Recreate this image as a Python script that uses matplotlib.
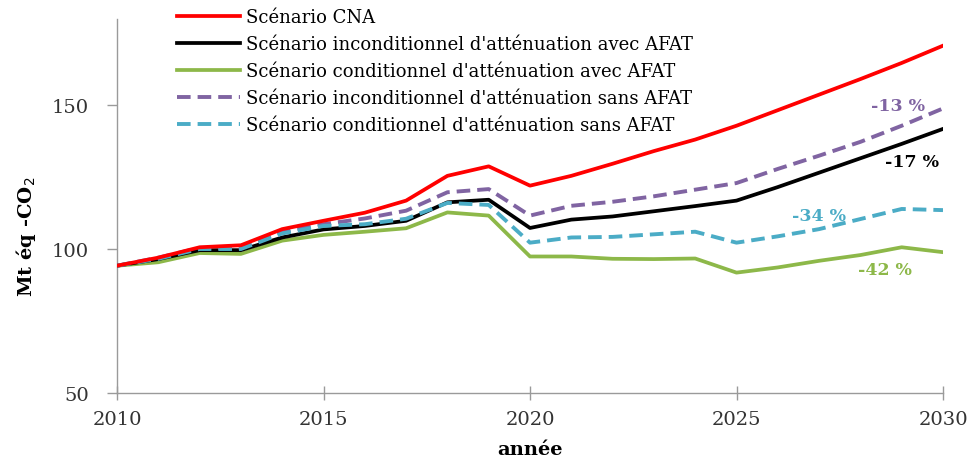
import matplotlib
matplotlib.use("Agg")
import matplotlib.pyplot as plt

years = list(range(2010, 2031))
cna = [94.2, 97.0, 100.6, 101.3, 106.9, 109.8, 112.6, 116.8, 125.4, 128.7, 122.0,
       125.4, 129.6, 134.0, 138.0, 142.8, 148.2, 153.6, 159.0, 164.6, 170.6]
incond_avec = [94.2, 96.5, 99.6, 99.6, 104.0, 106.8, 108.0, 109.8, 116.2, 117.1, 107.3,
               110.2, 111.3, 113.1, 114.9, 116.8, 121.5, 126.5, 131.5, 136.5, 141.7]
cond_avec = [94.2, 95.4, 98.6, 98.3, 102.9, 104.9, 106.0, 107.2, 112.7, 111.6, 97.4,
             97.4, 96.6, 96.5, 96.7, 91.8, 93.6, 95.9, 97.9, 100.6, 98.9]
incond_sans = [94.2, 97.0, 100.4, 100.4, 106.0, 108.6, 110.6, 113.3, 119.7, 120.8, 111.6,
               115.0, 116.4, 118.3, 120.6, 122.9, 127.8, 132.4, 137.2, 142.8, 148.8]
cond_sans = [94.2, 96.6, 100.0, 100.0, 105.4, 108.0, 108.6, 110.5, 116.0, 115.3, 102.2,
             104.0, 104.2, 105.1, 106.0, 102.2, 104.4, 106.9, 110.4, 113.9, 113.5]

labels = ["Scénario CNA",
          "Scénario inconditionnel d'atténuation avec AFAT",
          "Scénario conditionnel d'atténuation avec AFAT",
          "Scénario inconditionnel d'atténuation sans AFAT",
          "Scénario conditionnel d'atténuation sans AFAT"]
annots = ["-13 %", "-17 %", "-34 %", "-42 %"]

red = "#ff0000"
black = "#000000"
green = "#8db849"
purple = "#8064a2"
teal = "#4bacc6"

plt.rcParams["font.family"] = ["DejaVu Serif"]

W, H = 969, 460
fig = plt.figure(figsize=(W/100, H/100), dpi=100)
ax = fig.add_axes([117/W, 1-394/H, (943-117)/W, (394-19.6)/H])

ax.plot(years, cna, color=red, lw=2.7, label=labels[0], zorder=5)
ax.plot(years, incond_avec, color=black, lw=2.7, label=labels[1], zorder=3)
ax.plot(years, cond_avec, color=green, lw=2.7, label=labels[2], zorder=2)
ax.plot(years, incond_sans, color=purple, lw=2.8, ls=(0, (3.5, 1.8)), label=labels[3], zorder=4)
ax.plot(years, cond_sans, color=teal, lw=2.8, ls=(0, (3.5, 1.8)), label=labels[4], zorder=4)

ax.set_xlim(2010, 2030)
ax.set_ylim(50, 180)
ax.set_xticks([2010, 2015, 2020, 2025, 2030])
ax.set_yticks([50, 100, 150])
for s in ["top", "right"]:
    ax.spines[s].set_visible(False)
for s in ["left", "bottom"]:
    ax.spines[s].set_color("#9a9a9a")
    ax.spines[s].set_linewidth(1.0)
ax.tick_params(axis="y", colors="#9a9a9a", labelcolor="#333333", labelsize=14,
               length=7, width=1, pad=13)
ax.tick_params(axis="x", colors="#9a9a9a", labelcolor="#333333", labelsize=14,
               direction="inout", length=10, width=1, pad=7)

ax.set_ylabel("Mt éq -CO$_2$", fontsize=14, fontweight="bold")
ax.yaxis.set_label_coords((38-117)/826, 0.42)
ax.set_xlabel("année", fontsize=14, fontweight="bold")
ax.xaxis.set_label_coords(0.5, (394-441)/374.4)

leg = ax.legend(loc="upper left", bbox_to_anchor=((177-117)/826, (394-9)/374.4),
                frameon=False, fontsize=13, handlelength=3.5, handletextpad=0.3,
                labelspacing=0.5, borderaxespad=0, borderpad=0)

ax.text(2028.9, 150.0, annots[0], color=purple, fontsize=12.5, fontweight="bold", ha="center", va="center")
ax.text(2029.25, 130.5, annots[1], color=black, fontsize=12.5, fontweight="bold", ha="center", va="center")
ax.text(2027.0, 111.5, annots[2], color=teal, fontsize=12.5, fontweight="bold", ha="center", va="center")
ax.text(2028.6, 93.0, annots[3], color=green, fontsize=12.5, fontweight="bold", ha="center", va="center")

fig.savefig("out.png", dpi=100)
